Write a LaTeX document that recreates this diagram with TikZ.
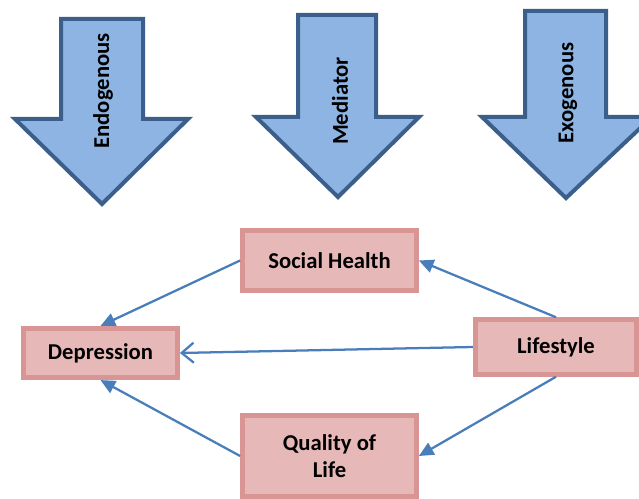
\documentclass[tikz,border=0pt]{standalone}
\usepackage{fontspec}
\setsansfont{Carlito}
\usetikzlibrary{arrows.meta}
\usetikzlibrary{calc}

\definecolor{boxfill}{HTML}{E6B9B8}
\definecolor{boxline}{HTML}{D99594}
\definecolor{downfill}{HTML}{8EB4E3}
\definecolor{downline}{HTML}{3B5E8B}
\definecolor{linkblue}{HTML}{4A7EBB}

\tikzset{
	downarrow/.style={fill=downfill, draw=downline, line width=3pt, line join=miter},
	varbox/.style={rectangle, fill=boxfill, draw=boxline, line width=3.6pt, inner sep=0pt,
		font=\sffamily\bfseries\fontsize{17}{20}\selectfont, align=center},
	link/.style={draw=linkblue, line width=1.7pt},
	solidtip/.style={link, -{Triangle[length=11pt,width=10pt]}},
	opentip/.style={link, -{Straight Barb[length=9pt,width=15pt,line width=1.7pt]}},
	downtext/.style={rotate=90, font=\sffamily\bfseries\fontsize{17}{20}\selectfont}
}

\begin{document}
\begin{tikzpicture}[x=0.75pt, y=-0.75pt]
	
		\useasboundingbox (0,0) rectangle (639,499);
		\clip (0,0) rectangle (639,499);
	
		%big downward arrows
		\filldraw[downarrow] (61,19) -- (143,19) -- (143,119) -- (188,119) -- (102,204) -- (15,119) -- (61,119) -- cycle;
		\filldraw[downarrow] (298,15) -- (376,15) -- (376,117) -- (419,117) -- (338,197) -- (256,117) -- (298,117) -- cycle;
		\filldraw[downarrow] (525,11) -- (606,11) -- (606,117) -- (652,117) -- (566,198) -- (482,117) -- (525,117) -- cycle;
		%arrow labels
		\node[downtext] (endo) at (103,91) {Endogenous};
		\node[downtext] (medi) at (340,101) {Mediator};
		\node[downtext] (exo) at (568,93) {Exogenous};
	
		%variable boxes
		\node[varbox, minimum width=130.5pt, minimum height=45pt] (soc) at (329.5,260.5) {Social Health};
		\node[varbox, minimum width=115.5pt, minimum height=37pt] (dep) at (100.5,353) {Depression};
		\node[varbox, minimum width=121pt, minimum height=41pt] (life) at (556,347) {Lifestyle};
		\node[varbox, minimum width=130.5pt, minimum height=61pt] (qol) at (329.5,456) {Quality of\\Life};
	
		%connecting paths
		\draw[solidtip] (soc.west) -- (dep.north);
		\draw[solidtip] (qol.west) -- (dep.south);
		\draw[opentip] (life.west) -- (dep.east);
		\draw[solidtip] (life.north) -- (soc.east);
		\draw[solidtip] (life.south) -- (qol.east);
	
	\end{tikzpicture}
\end{document}
